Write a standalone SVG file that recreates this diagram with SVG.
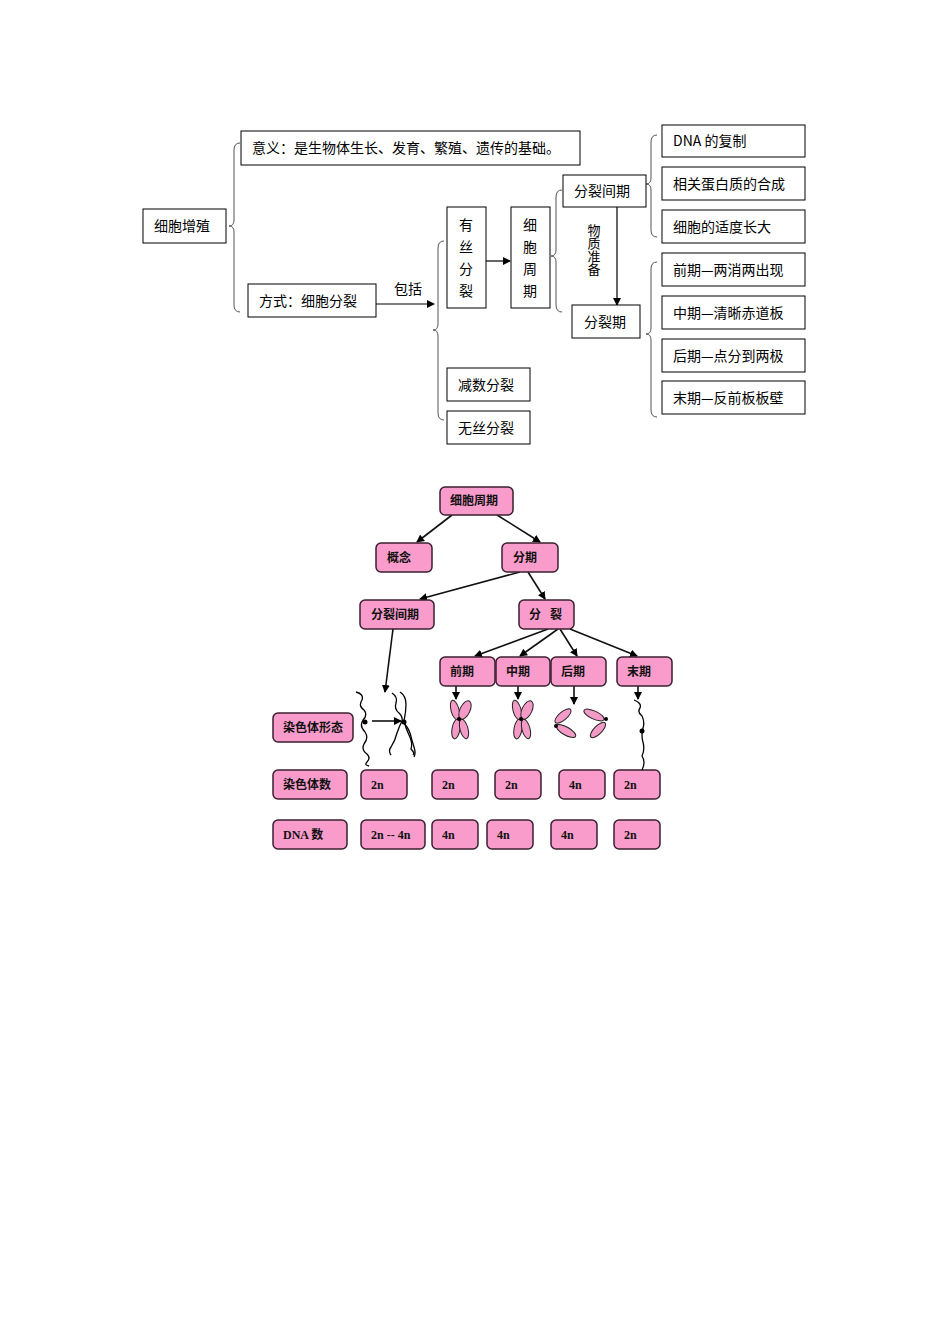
<svg xmlns="http://www.w3.org/2000/svg" width="950" height="1344" viewBox="0 0 950 1344">
<style>
.b{fill:#fff;stroke:#000;stroke-width:1}
.t{font-family:"Noto Sans CJK SC","Noto Sans",sans-serif;font-size:14px;fill:#000}
.v{font-family:"Noto Sans CJK SC","Noto Sans",sans-serif;font-size:13px;fill:#000;writing-mode:vertical-rl;letter-spacing:0}
.br{fill:none;stroke:#555;stroke-width:1}
.ln{stroke:#000;stroke-width:1.2;fill:none}
.p{fill:#f99ccc;stroke:#3a2030;stroke-width:1.5}
.pt{font-family:"Liberation Serif","Noto Sans CJK SC",serif;font-weight:bold;font-size:12px;fill:#111}
.ar{stroke:#111;stroke-width:1.6;fill:none}
.ch{fill:none;stroke:#000;stroke-width:1.3}
.cp{fill:#f39ac6;stroke:#222;stroke-width:1}
</style>
<defs>
<marker id="m" markerWidth="8" markerHeight="8" refX="7" refY="4" orient="auto" markerUnits="userSpaceOnUse"><path d="M0,0 L8,4 L0,8 z" fill="#000"/></marker>
</defs>
<g id="connectors">
<path class="br" d="M240,143 Q234,143 234,150 L234,220 Q234,226 229,226 Q234,226 234,232 L234,305 Q234,312 240,312"/>
<path class="br" d="M444,241 Q438,241 438,248 L438,324 Q438,330 433,330 Q438,330 438,336 L438,413 Q438,420 444,420"/>
<path class="br" d="M562,190 Q556,190 556,197 L556,250 Q556,256 551,256 Q556,256 556,262 L556,305 Q556,312 562,312"/>
<path class="br" d="M657,135 Q651,135 651,142 L651,178 Q651,184 646,184 Q651,184 651,190 L651,230 Q651,237 657,237"/>
<path class="br" d="M657,262 Q651,262 651,269 L651,328 Q651,334 646,334 Q651,334 651,340 L651,410 Q651,417 657,417"/>
<line class="ln" x1="376" y1="304" x2="434" y2="304" marker-end="url(#m)"/>
<line class="ln" x1="486" y1="261" x2="510" y2="261" marker-end="url(#m)"/>
<line class="ln" x1="617" y1="207" x2="617" y2="305" marker-end="url(#m)"/>
<g class="ar" marker-end="url(#m)">
<line x1="452" y1="515" x2="417" y2="542"/>
<line x1="497" y1="515" x2="540" y2="542"/>
<line x1="520" y1="572" x2="420" y2="599"/>
<line x1="528" y1="572" x2="545" y2="599"/>
<line x1="548" y1="629" x2="475" y2="656"/>
<line x1="558" y1="629" x2="520" y2="656"/>
<line x1="560" y1="629" x2="577" y2="656"/>
<line x1="570" y1="629" x2="637" y2="656"/>
<line x1="393" y1="629" x2="385" y2="692"/>
<line x1="456" y1="686" x2="456" y2="699"/>
<line x1="518" y1="686" x2="518" y2="699"/>
<line x1="574" y1="686" x2="574" y2="704"/>
<line x1="638" y1="686" x2="638" y2="699"/>
<line x1="372" y1="721" x2="401" y2="721"/>
</g>
</g>
<text class="t" x="394" y="294">包括</text>
<g id="n1"><rect class="b" x="143" y="209" width="83" height="34"/><text class="t" x="154" y="231">细胞增殖</text></g>
<g id="n2"><rect class="b" x="241" y="131" width="339" height="34"/><text class="t" x="252" y="153">意义：是生物体生长、发育、繁殖、遗传的基础。</text></g>
<g id="n3"><rect class="b" x="248" y="284" width="128" height="33"/><text class="t" x="259" y="306">方式：细胞分裂</text></g>
<g id="n4"><rect class="b" x="447" y="207" width="39" height="101"/><text class="t" x="459" y="230">有</text><text class="t" x="459" y="252">丝</text><text class="t" x="459" y="274">分</text><text class="t" x="459" y="296">裂</text></g>
<g id="n5"><rect class="b" x="511" y="207" width="39" height="101"/><text class="t" x="523" y="230">细</text><text class="t" x="523" y="252">胞</text><text class="t" x="523" y="274">周</text><text class="t" x="523" y="296">期</text></g>
<g id="n6"><rect class="b" x="447" y="368" width="83" height="33"/><text class="t" x="458" y="390">减数分裂</text></g>
<g id="n7"><rect class="b" x="447" y="411" width="83" height="33"/><text class="t" x="458" y="433">无丝分裂</text></g>
<g id="n8"><rect class="b" x="563" y="175" width="83" height="32"/><text class="t" x="574" y="196">分裂间期</text></g>
<g id="n9"><rect class="b" x="572" y="305" width="68" height="33"/><text class="t" x="584" y="327">分裂期</text></g>
<g id="lbl"><text class="v" x="594" y="224">物质准备</text></g>
<g id="n10"><rect class="b" x="662" y="125" width="143" height="32"/><text class="t" x="673" y="146">DNA 的复制</text></g>
<g id="n11"><rect class="b" x="662" y="167" width="143" height="33"/><text class="t" x="673" y="189">相关蛋白质的合成</text></g>
<g id="n12"><rect class="b" x="662" y="210" width="143" height="33"/><text class="t" x="673" y="232">细胞的适度长大</text></g>
<g id="n13"><rect class="b" x="662" y="253" width="143" height="33"/><text class="t" x="673" y="275">前期—两消两出现</text></g>
<g id="n14"><rect class="b" x="662" y="296" width="143" height="33"/><text class="t" x="673" y="318">中期—清晰赤道板</text></g>
<g id="n15"><rect class="b" x="662" y="339" width="143" height="33"/><text class="t" x="673" y="361">后期—点分到两极</text></g>
<g id="n16"><rect class="b" x="662" y="381" width="143" height="33"/><text class="t" x="673" y="403">末期—反前板板壁</text></g>

<g id="p1"><rect class="p" x="440" y="487" width="73" height="28" rx="5"/><text class="pt" x="450" y="505">细胞周期</text></g>
<g id="p2"><rect class="p" x="376" y="543" width="56" height="29" rx="5"/><text class="pt" x="387" y="562">概念</text></g>
<g id="p3"><rect class="p" x="502" y="543" width="56" height="29" rx="5"/><text class="pt" x="513" y="562">分期</text></g>
<g id="p4"><rect class="p" x="360" y="600" width="74" height="29" rx="5"/><text class="pt" x="371" y="619">分裂间期</text></g>
<g id="p5"><rect class="p" x="519" y="600" width="55" height="29" rx="5"/><text class="pt" x="529" y="619" xml:space="preserve">分   裂</text></g>
<g id="p6"><rect class="p" x="440" y="657" width="55" height="29" rx="5"/><text class="pt" x="450" y="676">前期</text></g>
<g id="p7"><rect class="p" x="496" y="657" width="54" height="29" rx="5"/><text class="pt" x="506" y="676">中期</text></g>
<g id="p8"><rect class="p" x="551" y="657" width="55" height="29" rx="5"/><text class="pt" x="561" y="676">后期</text></g>
<g id="p9"><rect class="p" x="617" y="657" width="55" height="29" rx="5"/><text class="pt" x="627" y="676">末期</text></g>
<g id="p10"><rect class="p" x="273" y="713" width="80" height="29" rx="5"/><text class="pt" x="283" y="732">染色体形态</text></g>
<g id="p11"><rect class="p" x="273" y="770" width="74" height="29" rx="5"/><text class="pt" x="283" y="789">染色体数</text></g>
<g id="p12"><rect class="p" x="273" y="820" width="74" height="29" rx="5"/><text class="pt" x="283" y="839">DNA 数</text></g>
<g id="c1"><rect class="p" x="361" y="770" width="46" height="29" rx="5"/><text class="pt" x="371" y="789">2n</text></g>
<g id="c2"><rect class="p" x="432" y="770" width="46" height="29" rx="5"/><text class="pt" x="442" y="789">2n</text></g>
<g id="c3"><rect class="p" x="495" y="770" width="46" height="29" rx="5"/><text class="pt" x="505" y="789">2n</text></g>
<g id="c4"><rect class="p" x="559" y="770" width="46" height="29" rx="5"/><text class="pt" x="569" y="789">4n</text></g>
<g id="c5"><rect class="p" x="614" y="770" width="46" height="29" rx="5"/><text class="pt" x="624" y="789">2n</text></g>
<g id="d1"><rect class="p" x="361" y="820" width="64" height="29" rx="5"/><text class="pt" x="371" y="839">2n -- 4n</text></g>
<g id="d2"><rect class="p" x="432" y="820" width="46" height="29" rx="5"/><text class="pt" x="442" y="839">4n</text></g>
<g id="d3"><rect class="p" x="487" y="820" width="46" height="29" rx="5"/><text class="pt" x="497" y="839">4n</text></g>
<g id="d4"><rect class="p" x="551" y="820" width="46" height="29" rx="5"/><text class="pt" x="561" y="839">4n</text></g>
<g id="d5"><rect class="p" x="614" y="820" width="46" height="29" rx="5"/><text class="pt" x="624" y="839">2n</text></g>

<g id="chromosomes">
<path class="ch" d="M356,692 q8,2 6,8 q-4,6 2,10 q4,5 -1,10 q-4,6 2,12 q4,6 -1,12 q-3,6 3,10 q4,4 0,8 q-3,3 2,4"/>
<circle cx="365" cy="722" r="2.5" fill="#000"/>
<path class="ch" d="M392,693 q6,4 4,10 q-2,6 3,10 q4,4 3,8 q-3,6 -5,12 q-2,8 -6,14 q-3,4 0,8"/>
<path class="ch" d="M400,692 q6,4 6,12 q0,8 -2,17 q2,8 5,14 q4,8 2,14 q4,4 2,6"/>
<path class="ch" d="M402,721 q6,6 8,12 q2,8 4,14 q2,6 0,10"/>
<circle cx="404" cy="722" r="2.5" fill="#000"/>
<g transform="translate(459,719)"><ellipse class="cp" cx="-4" cy="-9" rx="4" ry="10" transform="rotate(-15 -4 -9)"/><ellipse class="cp" cx="6" cy="-9" rx="5" ry="10" transform="rotate(25 6 -9)"/><ellipse class="cp" cx="-3" cy="10" rx="4" ry="10" transform="rotate(10 -3 10)"/><ellipse class="cp" cx="5" cy="10" rx="4" ry="10" transform="rotate(-15 5 10)"/><circle r="2" fill="#000"/></g>
<g transform="translate(521,719)"><ellipse class="cp" cx="-4" cy="-9" rx="4" ry="10" transform="rotate(-15 -4 -9)"/><ellipse class="cp" cx="6" cy="-9" rx="5" ry="10" transform="rotate(25 6 -9)"/><ellipse class="cp" cx="-3" cy="10" rx="4" ry="10" transform="rotate(10 -3 10)"/><ellipse class="cp" cx="5" cy="10" rx="4" ry="10" transform="rotate(-15 5 10)"/><circle r="2" fill="#000"/></g>
<ellipse class="cp" cx="563" cy="716" rx="4" ry="10" transform="rotate(50 563 716)"/>
<ellipse class="cp" cx="566" cy="731" rx="4" ry="11" transform="rotate(-60 566 731)"/>
<ellipse class="cp" cx="594" cy="715" rx="4" ry="11" transform="rotate(-65 594 715)"/>
<ellipse class="cp" cx="598" cy="730" rx="4" ry="10" transform="rotate(45 598 730)"/>
<circle cx="556" cy="726" r="2" fill="#000"/><circle cx="606" cy="719" r="2" fill="#000"/>
<path class="ch" d="M634,700 q8,3 6,8 q-3,4 2,8 q3,6 1,12 q-2,8 0,14 q2,8 -1,14 q4,6 0,14"/>
<circle cx="642" cy="731" r="2.5" fill="#000"/>
</g>
</svg>
